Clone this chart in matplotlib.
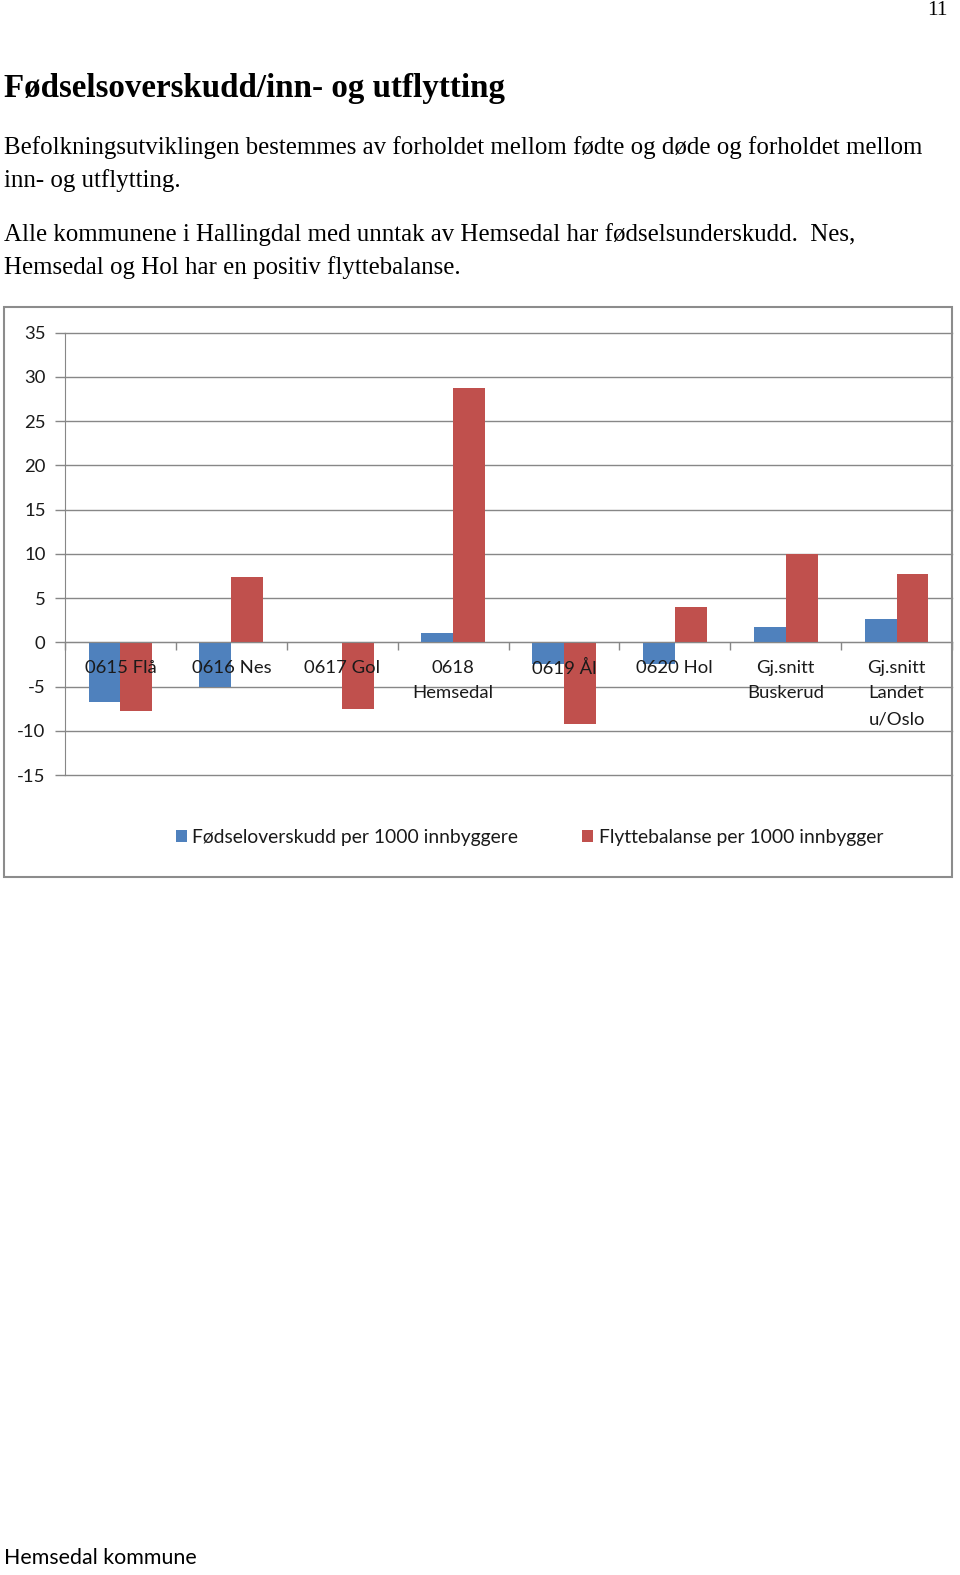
import matplotlib
matplotlib.use("Agg")
import matplotlib.pyplot as plt
from matplotlib.patches import Patch, Rectangle
import numpy as np

categories = ["0615 Flå", "0616 Nes", "0617 Gol", "0618\nHemsedal", "0619 Ål",
              "0620 Hol", "Gj.snitt\nBuskerud", "Gj.snitt\nLandet\nu/Oslo"]
fodselsoverskudd = [-6.7, -5.1, 0.0, 1.1, -2.4, -2.5, 1.7, 2.6]
flyttebalanse = [-7.8, 7.4, -7.5, 28.7, -9.2, 4.0, 10.0, 7.7]
series_names = ["Fødseloverskudd per 1000 innbyggere", "Flyttebalanse per 1000 innbygger"]
yticks = [-15, -10, -5, 0, 5, 10, 15, 20, 25, 30, 35]

BLUE = "#4F81BD"
RED = "#C0504D"
GRID = "#878787"
W, H = 960, 1575

fig = plt.figure(figsize=(W / 100, H / 100), dpi=100)
fig.patch.set_facecolor("white")

def fx(px):
    return px / W

def fy(py):
    return 1 - py / H

serif = ["Liberation Serif", "DejaVu Serif"]
sans = ["Lato", "DejaVu Sans"]

# page texts
fig.text(fx(948), fy(1), "11", family=serif, fontsize=15.5, ha="right", va="top")
fig.text(fx(4), fy(89), "Fødselsoverskudd/inn- og utflytting", family=serif,
         fontsize=23.8, fontweight="bold", ha="left", va="center")
body = [("Befolkningsutviklingen bestemmes av forholdet mellom fødte og døde og forholdet mellom", 148),
        ("inn- og utflytting.", 181),
        ("Alle kommunene i Hallingdal med unntak av Hemsedal har fødselsunderskudd.  Nes,", 235),
        ("Hemsedal og Hol har en positiv flyttebalanse.", 268)]
for t, y in body:
    fig.text(fx(4), fy(y), t, family=serif, fontsize=17.9, ha="left", va="center")
fig.text(fx(4), fy(1558), "Hemsedal kommune", family=sans, fontsize=15.4, ha="left", va="center")

# chart frame
frame = Rectangle((fx(4), fy(877)), fx(952) - fx(4), fy(307) - fy(877),
                  transform=fig.transFigure, fill=False, edgecolor="#8c8c8c", linewidth=1.5)
fig.patches.append(frame)

# axes
ax_left, ax_right = 65, 952
ax_top, ax_bot = 332.7, 775
ax = fig.add_axes([fx(ax_left), fy(ax_bot), fx(ax_right) - fx(ax_left), fy(ax_top) - fy(ax_bot)])
ax.set_facecolor("none")

x = np.arange(len(categories))
bw = 0.288
ax.bar(x - bw / 2, fodselsoverskudd, bw, color=BLUE, zorder=3, label=series_names[0])
ax.bar(x + bw / 2, flyttebalanse, bw, color=RED, zorder=3, label=series_names[1])

ax.set_xlim(-0.5, len(categories) - 0.5)
ax.set_ylim(-15, 35)
ax.set_yticks(yticks)
ax.set_yticklabels([str(v) for v in yticks], family=sans, fontsize=13.3, color="#1a1a1a")
ax.yaxis.grid(True, color=GRID, linewidth=1.0, zorder=0)
ax.tick_params(axis="y", length=7, width=1, color=GRID, pad=7)
for gl in ax.get_ygridlines():
    gl.set_clip_on(False)

for s in ["top", "right"]:
    ax.spines[s].set_visible(False)
ax.spines["left"].set_color(GRID)
ax.spines["bottom"].set_position(("data", 0))
ax.spines["bottom"].set_color(GRID)
ax.spines["bottom"].set_zorder(4)

ax.set_xticks(np.arange(len(categories) + 1) - 0.5)
ax.set_xticklabels([])
ax.tick_params(axis="x", which="major", length=6, width=1, color=GRID, direction="out")
ax.set_xticks(x, minor=True)
ax.set_xticklabels(categories, minor=True, family=sans, fontsize=13.3, color="#1a1a1a",
                   linespacing=1.75, va="top")
ax.tick_params(axis="x", which="minor", length=0, pad=12.5)
ax.xaxis.set_zorder(5)

handles = [Patch(facecolor=BLUE), Patch(facecolor=RED)]
leg = fig.legend(handles, series_names, loc="center", bbox_to_anchor=(fx(529.5), fy(837.5)),
                 ncol=2, frameon=False, prop={"family": sans, "size": 13.9},
                 handlelength=0.57, handleheight=0.57, handletextpad=0.3, columnspacing=3.3,
                 borderpad=0, borderaxespad=0)
for t in leg.get_texts():
    t.set_color("#1a1a1a")

fig.savefig("out.png", dpi=100, facecolor="white")
